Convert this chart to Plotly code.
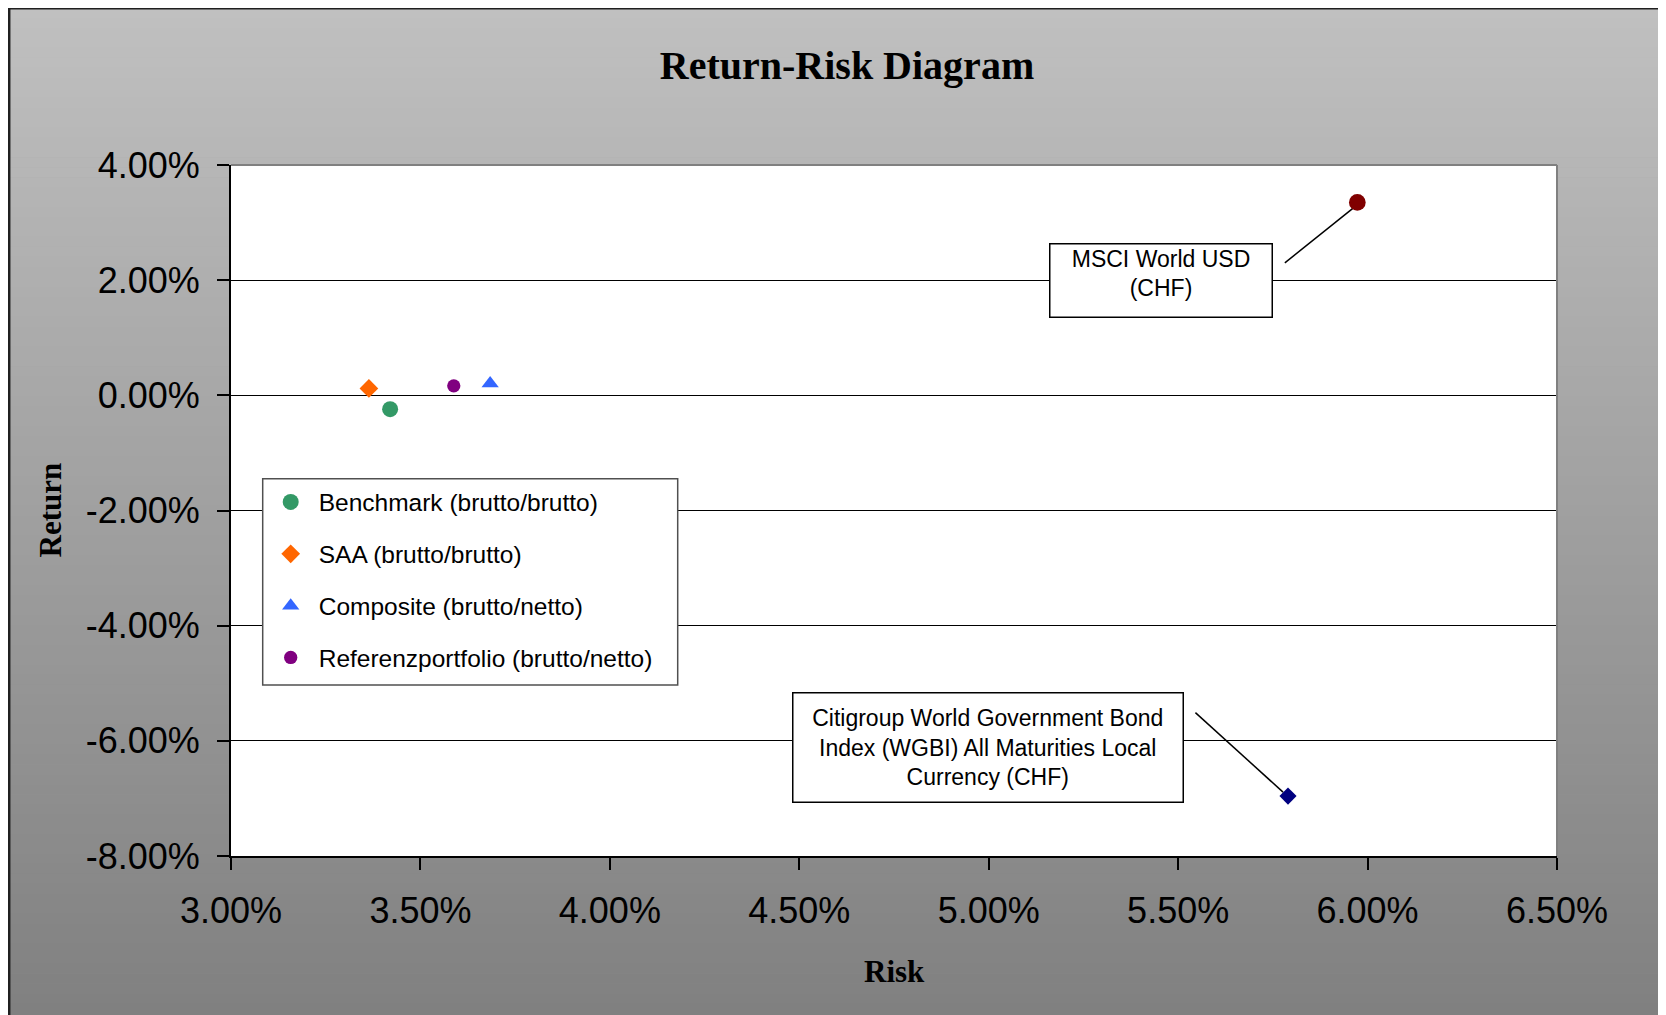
import plotly.graph_objects as go

# ---------------- data ----------------
legend_names = ["Benchmark (brutto/brutto)", "SAA (brutto/brutto)",
                "Composite (brutto/netto)", "Referenzportfolio (brutto/netto)"]
legend_risk = [3.42, 3.364, 3.684, 3.588]        # %
legend_return = [-0.24, 0.12, 0.205, 0.165]      # %

msci_label = "MSCI World USD<br>(CHF)"
msci_risk = [5.973]
msci_return = [3.35]

wgbi_label = "Citigroup World Government Bond<br>Index (WGBI) All Maturities Local<br>Currency (CHF)"
wgbi_risk = [5.79]
wgbi_return = [-6.96]

x_ticks = [3.0, 3.5, 4.0, 4.5, 5.0, 5.5, 6.0, 6.5]
y_ticks = [-8, -6, -4, -2, 0, 2, 4]
x_ticktext = [f"{v:.2f}%" for v in x_ticks]
y_ticktext = [f"{v:.2f}%" for v in y_ticks]

# ---------------- styles ----------------
legend_symbols = ["circle", "diamond", "triangle-up", "circle"]
legend_colors = ["#339966", "#ff6600", "#3366ff", "#800080"]
legend_sizes = [16, 14.4, 15, 13.3]

W, H = 1666, 1015
ML, MR, MT, MB = 223, 117, 157, 167
PW, PH = W - ML - MR, H - MT - MB

SANS = "Liberation Sans, Arial, sans-serif"
SERIF = "Liberation Serif, Times New Roman, serif"


def px_x(fx):
    return (fx - ML) / PW


def px_y(fy):
    return (H - MB - fy) / PH


fig = go.Figure()

for i, name in enumerate(legend_names):
    fig.add_trace(go.Scatter(
        x=[legend_risk[i]], y=[legend_return[i]], mode="markers", name=name,
        legendgroup=f"g{i}",
        marker=dict(symbol=legend_symbols[i], color=legend_colors[i],
                    size=legend_sizes[i], line=dict(width=0)),
    ))

fig.add_trace(go.Scatter(x=msci_risk, y=msci_return, mode="markers", showlegend=False,
                         name="MSCI World USD (CHF)",
                         marker=dict(symbol="circle", color="#800000", size=16.7, line=dict(width=0))))
fig.add_trace(go.Scatter(x=wgbi_risk, y=wgbi_return, mode="markers", showlegend=False,
                         name="Citigroup WGBI (CHF)",
                         marker=dict(symbol="diamond", color="#000080", size=13.2, line=dict(width=0))))

shapes = []
# gradient background stripes
N = 102
step = H / N
for k in range(N):
    fy0 = k * step
    fy1 = (k + 1) * step + 0.6
    c = round(192 - 64 * (fy0 + step / 2) / 1007)
    shapes.append(dict(type="rect", xref="paper", yref="paper",
                       x0=px_x(0), x1=px_x(W), y0=px_y(fy1), y1=px_y(fy0),
                       fillcolor=f"rgb({c},{c},{c})", line=dict(width=0), layer="below"))
# white plot area
shapes.append(dict(type="rect", xref="paper", yref="paper", x0=0, x1=1, y0=0, y1=1,
                   fillcolor="white", line=dict(width=0), layer="below"))
# leader lines (pixel offsets anchored on the data points)
shapes.append(dict(type="line", xref="x", yref="y", xsizemode="pixel", ysizemode="pixel",
                   xanchor=msci_risk[0], yanchor=msci_return[0],
                   x0=-72.5, y0=-60.4, x1=-2, y1=-4, line=dict(color="black", width=1.5),
                   layer="below"))
shapes.append(dict(type="line", xref="x", yref="y", xsizemode="pixel", ysizemode="pixel",
                   xanchor=wgbi_risk[0], yanchor=wgbi_return[0],
                   x0=-92.6, y0=83.5, x1=-5, y1=4, line=dict(color="black", width=1.5),
                   layer="below"))
# gray top and right plot borders
shapes.append(dict(type="line", xref="paper", yref="paper", x0=0, x1=1, y0=1, y1=1,
                   line=dict(color="#808080", width=2), layer="above"))
shapes.append(dict(type="line", xref="paper", yref="paper", x0=1, x1=1, y0=0, y1=1,
                   line=dict(color="#808080", width=2), layer="above"))
# legend frame (legend itself drawn on top, transparent)
shapes.append(dict(type="rect", xref="paper", yref="paper",
                   x0=px_x(254.7), x1=px_x(669.7), y0=px_y(677), y1=px_y(470.7),
                   fillcolor="white", line=dict(color="#505050", width=1.5), layer="above"))
# outer chart border (top and left visible)
shapes.append(dict(type="line", xref="paper", yref="paper", x0=px_x(0), x1=px_x(W),
                   y0=px_y(0.2), y1=px_y(0.2), line=dict(color="#202020", width=2.5), layer="above"))
shapes.append(dict(type="line", xref="paper", yref="paper", x0=px_x(1.2), x1=px_x(1.2),
                   y0=px_y(0), y1=px_y(H), line=dict(color="#202020", width=2.5), layer="above"))

annotations = [
    dict(text="Return", xref="paper", yref="paper", x=px_x(42), y=0.5, showarrow=False,
         textangle=-90, xanchor="center", yanchor="middle",
         font=dict(family=SERIF, size=31, color="black", weight="bold")),
    dict(text="Risk", xref="paper", yref="paper", x=0.5, y=px_y(963.5), showarrow=False,
         xanchor="center", yanchor="middle",
         font=dict(family=SERIF, size=31, color="black", weight="bold")),
    dict(text=msci_label, xref="x", yref="y", x=msci_risk[0], y=msci_return[0],
         showarrow=False, xanchor="center", yanchor="middle", xshift=-196.5, yshift=-78.1,
         width=219, height=70.4, borderpad=1, borderwidth=1.5, bordercolor="black",
         bgcolor="white", align="center", valign="top",
         font=dict(family=SANS, size=23, color="black")),
    dict(text=wgbi_label, xref="x", yref="y", x=wgbi_risk[0], y=wgbi_return[0],
         showarrow=False, xanchor="center", yanchor="middle", xshift=-300.4, yshift=49,
         width=386.5, height=106, borderpad=1, borderwidth=1.5, bordercolor="black",
         bgcolor="white", align="center",
         font=dict(family=SANS, size=23, color="black")),
]

fig.update_layout(
    width=W, height=H,
    margin=dict(l=ML, r=MR, t=MT, b=MB, pad=0),
    paper_bgcolor="#a0a0a0", plot_bgcolor="rgba(0,0,0,0)",
    title=dict(text="Return-Risk Diagram", xref="container", yref="container",
               x=839 / W, y=1 - 57.3 / H, xanchor="center", yanchor="middle",
               font=dict(family=SERIF, size=40, color="black", weight="bold")),
    shapes=shapes, annotations=annotations,
    showlegend=True,
    legend=dict(x=px_x(254.7), y=px_y(471.5), xanchor="left", yanchor="top",
                bgcolor="rgba(0,0,0,0)", borderwidth=0,
                font=dict(family=SANS, size=24.5, color="black"),
                tracegroupgap=17, itemwidth=46),
    xaxis=dict(range=[3.0, 6.5], tickvals=x_ticks, ticktext=x_ticktext,
               showgrid=False, zeroline=False, showline=True, linecolor="black", linewidth=2,
               ticks="outside", ticklen=12, tickwidth=1.5, tickcolor="black",
               ticklabelstandoff=10,
               tickfont=dict(family=SANS, size=36, color="black")),
    yaxis=dict(range=[-8, 4], tickvals=y_ticks, ticktext=y_ticktext,
               showgrid=True, gridcolor="black", gridwidth=1, zeroline=False,
               showline=True, linecolor="black", linewidth=2,
               ticks="outside", ticklen=12, tickwidth=1.5, tickcolor="black",
               ticklabelstandoff=10,
               tickfont=dict(family=SANS, size=36, color="black")),
)

fig.write_html("out.html")
